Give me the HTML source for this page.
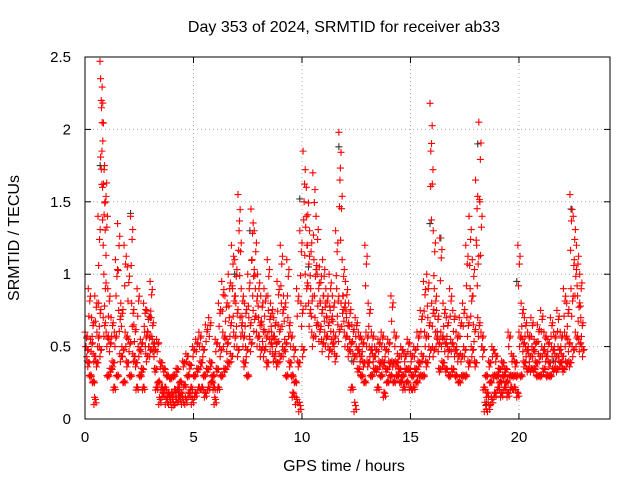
<!DOCTYPE html>
<html><head><meta charset="utf-8"><style>
body{margin:0;background:#fff;font-family:"Liberation Sans",sans-serif}
svg text{font-family:"Liberation Sans",sans-serif;font-size:15px;fill:#000}
svg text.big{font-size:16px}
</style></head><body>
<svg id="c" width="640" height="480">
<text class="big" x="344" y="32" text-anchor="middle">Day 353 of 2024, SRMTID for receiver ab33</text>
<text class="big" x="344" y="471" text-anchor="middle">GPS time / hours</text>
<text class="big" transform="translate(19,238) rotate(-90)" text-anchor="middle">SRMTID / TECUs</text>
<g id="grid"></g><g id="marks"></g>
<rect x="85" y="57" width="525" height="362" fill="none" stroke="#000"/>
</svg>
<script>
const xTicks=[0,5,10,15,20];
const yTicks=[0,0.5,1,1.5,2,2.5];
const yTickLabels=["0","0.5","1","1.5","2","2.5"];
const redTimes=[0,0.15,0.3,0.45,0.6,0.75,0.9,1.05,1.2,1.35,1.5,1.65,1.8,1.95,2.1,2.25,2.4,2.55,2.7,2.85,3.0,3.15,3.3,3.45,3.6,3.75,3.9,4.05,4.2,4.35,4.5,4.65,4.8,4.95,5.1,5.25,5.4,5.55,5.7,5.85,6.0,6.15,6.3,6.45,6.6,6.75,6.9,7.05,7.2,7.35,7.5,7.65,7.8,7.95,8.1,8.25,8.4,8.55,8.7,8.85,9.0,9.15,9.3,9.45,9.6,9.75,9.9,10.05,10.2,10.35,10.5,10.65,10.8,10.95,11.1,11.25,11.4,11.55,11.7,11.85,12.0,12.15,12.3,12.45,12.6,12.75,12.9,13.05,13.2,13.35,13.5,13.65,13.8,13.95,14.1,14.25,14.4,14.55,14.7,14.85,15.0,15.15,15.3,15.45,15.6,15.75,15.9,16.05,16.2,16.35,16.5,16.65,16.8,16.95,17.1,17.25,17.4,17.55,17.7,17.85,18.0,18.15,18.3,18.45,18.6,18.75,18.9,19.05,19.2,19.35,19.5,19.65,19.8,19.95,20.1,20.25,20.4,20.55,20.7,20.85,21.0,21.15,21.3,21.45,21.6,21.75,21.9,22.05,22.2,22.35,22.5,22.65,22.8];
const redValues=[[.6,.5,.4],[.9,.3,.55],[.7,.25,.45,.1],[.85,.4,.6],[1.4,.8,.5,2.47,2.35],[2.2,1.85,1.6,.7,1.0],[1.75,1.5,.6,.3],[.9,.55,.35],[.7,.4,.2],[.6,1.1,.3],[1.35,.75,.45],[.8,.5,.25],[1.2,.6,.4],[1.05,.55,.3],[1.4,.8,.45],[.65,.4,.2],[.9,.5,.3],[.55,.35,.2],[.8,.6,.45],[.75,.6,.5],[.95,.7,.55],[.5,.35,.2],[.55,.25,.1],[.4,.2,.15],[.35,.2,.1],[.3,.15,.1],[.28,.15,.08],[.3,.18,.1],[.35,.2,.12],[.25,.15,.1],[.4,.22,.1],[.45,.3,.15],[.38,.2,.1],[.5,.3,.15],[.55,.35,.2],[.6,.4,.2],[.5,.3,.15],[.65,.35,.2],[.7,.4,.25],[.3,.2,.1],[.55,.35,.2],[.8,.5,.3],[.95,.6,.35],[.85,.55,.4],[1.0,.7,.45],[1.2,.9,.6],[1.1,.8,.5],[1.55,1.3,.7],[.9,.6,.4],[.8,.5,.3],[1.0,.7,.55],[1.45,1.1,.75],[1.3,.9,.6],[1.0,.7,.5],[.85,.65,.5],[.9,.6,.4],[1.1,.75,.55],[.8,.6,.45],[.7,.55,.4],[.95,.65,.45],[1.2,.8,.5],[.85,.55,.3],[1.1,.7,.4],[.6,.3,.15],[.5,.25,.1],[.9,.4,.05],[1.3,.8,.5],[1.85,1.5,1.0],[1.6,1.2,.8],[1.3,.9,.6],[1.7,1.1,.7],[1.4,1.0,.65],[1.05,.8,.55],[1.1,.85,.6],[.9,.7,.5],[1.0,.75,.55],[.85,.6,.45],[1.3,.9,.65],[1.98,1.65,.8],[1.1,.85,.6],[.95,.7,.5],[.8,.55,.2],[.65,.45,.05],[.7,.5,.35],[.6,.45,.3],[.55,.4,.25],[1.2,.6,.4],[.8,.5,.3],[.6,.45,.35],[.5,.35,.2],[.55,.4,.3],[.6,.4,.15],[.5,.35,.25],[.55,.4,.3],[.85,.4,.25],[.6,.4,.3],[.45,.35,.25],[.5,.3,.2],[.45,.35,.25],[.55,.35,.2],[.45,.3,.2],[.5,.35,.25],[.6,.4,.3],[.75,.45,.3],[.95,.6,.4],[1.0,.7,.5],[2.18,1.85,.8,.5],[1.3,.9,.6],[.75,.55,.35],[1.25,.6,.4],[.8,.55,.35],[.7,.5,.3],[.9,.55,.35],[.75,.5,.3],[.6,.45,.25],[.7,.45,.3],[.8,.5,.3],[1.2,.7,.4],[1.4,.9,.5],[1.1,.65,.4],[1.65,1.2,.7],[2.05,1.5,.6],[.5,.2,.05],[.3,.15,.05],[.4,.25,.1],[.5,.3,.15],[.45,.3,.2],[.35,.25,.15],[.4,.3,.2],[.35,.25,.15],[.6,.3,.2],[.45,.3,.2],[.4,.3,.15],[1.2,.6,.3],[.8,.55,.4],[.7,.5,.35],[.6,.45,.35],[.7,.5,.35],[.55,.4,.3],[.65,.45,.3],[.75,.5,.35],[.6,.45,.3],[.55,.4,.3],[.7,.5,.35],[.6,.45,.35],[.75,.5,.4],[.6,.45,.35],[.9,.6,.4],[.8,.55,.4],[1.55,.9,.5],[1.4,1.1,.6],[1.2,.85,.55],[1.0,.7,.5]];
const blackTimes=[0.7,2.1,3.0,4.3,6.9,7.6,9.9,10.3,11.7,12.3,13.6,15.9,16.4,18.1,18.5,19.9,20.6,21.6,22.4];
const blackValues=[1.75,1.42,.7,.18,1.0,1.3,1.52,1.05,1.88,.4,.3,1.35,1.25,1.9,.1,.95,.5,.4,1.45];
const X=t=>85+t*(609-85)/24.15, Y=v=>419-v*(419-57)/2.5;
const NS="http://www.w3.org/2000/svg",g=document.getElementById('grid'),m=document.getElementById('marks');
function el(tag,a,p){const e=document.createElementNS(NS,tag);for(const k in a)e.setAttribute(k,a[k]);p.appendChild(e);return e;}
xTicks.forEach(t=>{const x=X(t);
 if(t>0){const l=el('line',{x1:x,x2:x,y1:57,y2:419,stroke:'#aaa','stroke-dasharray':'1,3'},g);}
 el('line',{x1:x,x2:x,y1:419,y2:413,stroke:'#000'},g);el('line',{x1:x,x2:x,y1:57,y2:63,stroke:'#000'},g);
 const tx=el('text',{x:x,y:442,'text-anchor':'middle'},g);tx.textContent=t;
 });
yTicks.forEach((v,i)=>{const y=Y(v);
 if(v>0&&v<2.5){const l=el('line',{x1:85,x2:610,y1:y,y2:y,stroke:'#aaa','stroke-dasharray':'1,3'},g);}
 el('line',{x1:85,x2:91,y1:y,y2:y,stroke:'#000'},g);el('line',{x1:610,x2:604,y1:y,y2:y,stroke:'#000'},g);
 const tx=el('text',{x:71,y:y+5,'text-anchor':'end'},g);tx.textContent=yTickLabels[i];
 });
function plus(t,v,c,name){const x=X(t),y=Y(v);
 const p=el('path',{d:`M${x-3.5},${y}h7M${x},${y-3.5}v7`,stroke:c,'stroke-width':1.1},m);
 }
blackTimes.forEach((t,i)=>plus(t,blackValues[i],'#333','black-point'));
redTimes.forEach((t,i)=>{const vs=redValues[i];vs.forEach((v,j)=>{
 plus(t+j*0.15/vs.length,v,'#ff0000','red-point');
 plus(t+0.07+j*0.15/vs.length,v*0.85+0.05,'#ff0000','red-point');
 plus(t+0.03+j*0.15/vs.length,v*0.7+0.08,'#ff0000','red-point');
 plus(t+0.1+j*0.15/vs.length,v*0.92+0.02,'#ff0000','red-point');});});
</script>
</body></html>
